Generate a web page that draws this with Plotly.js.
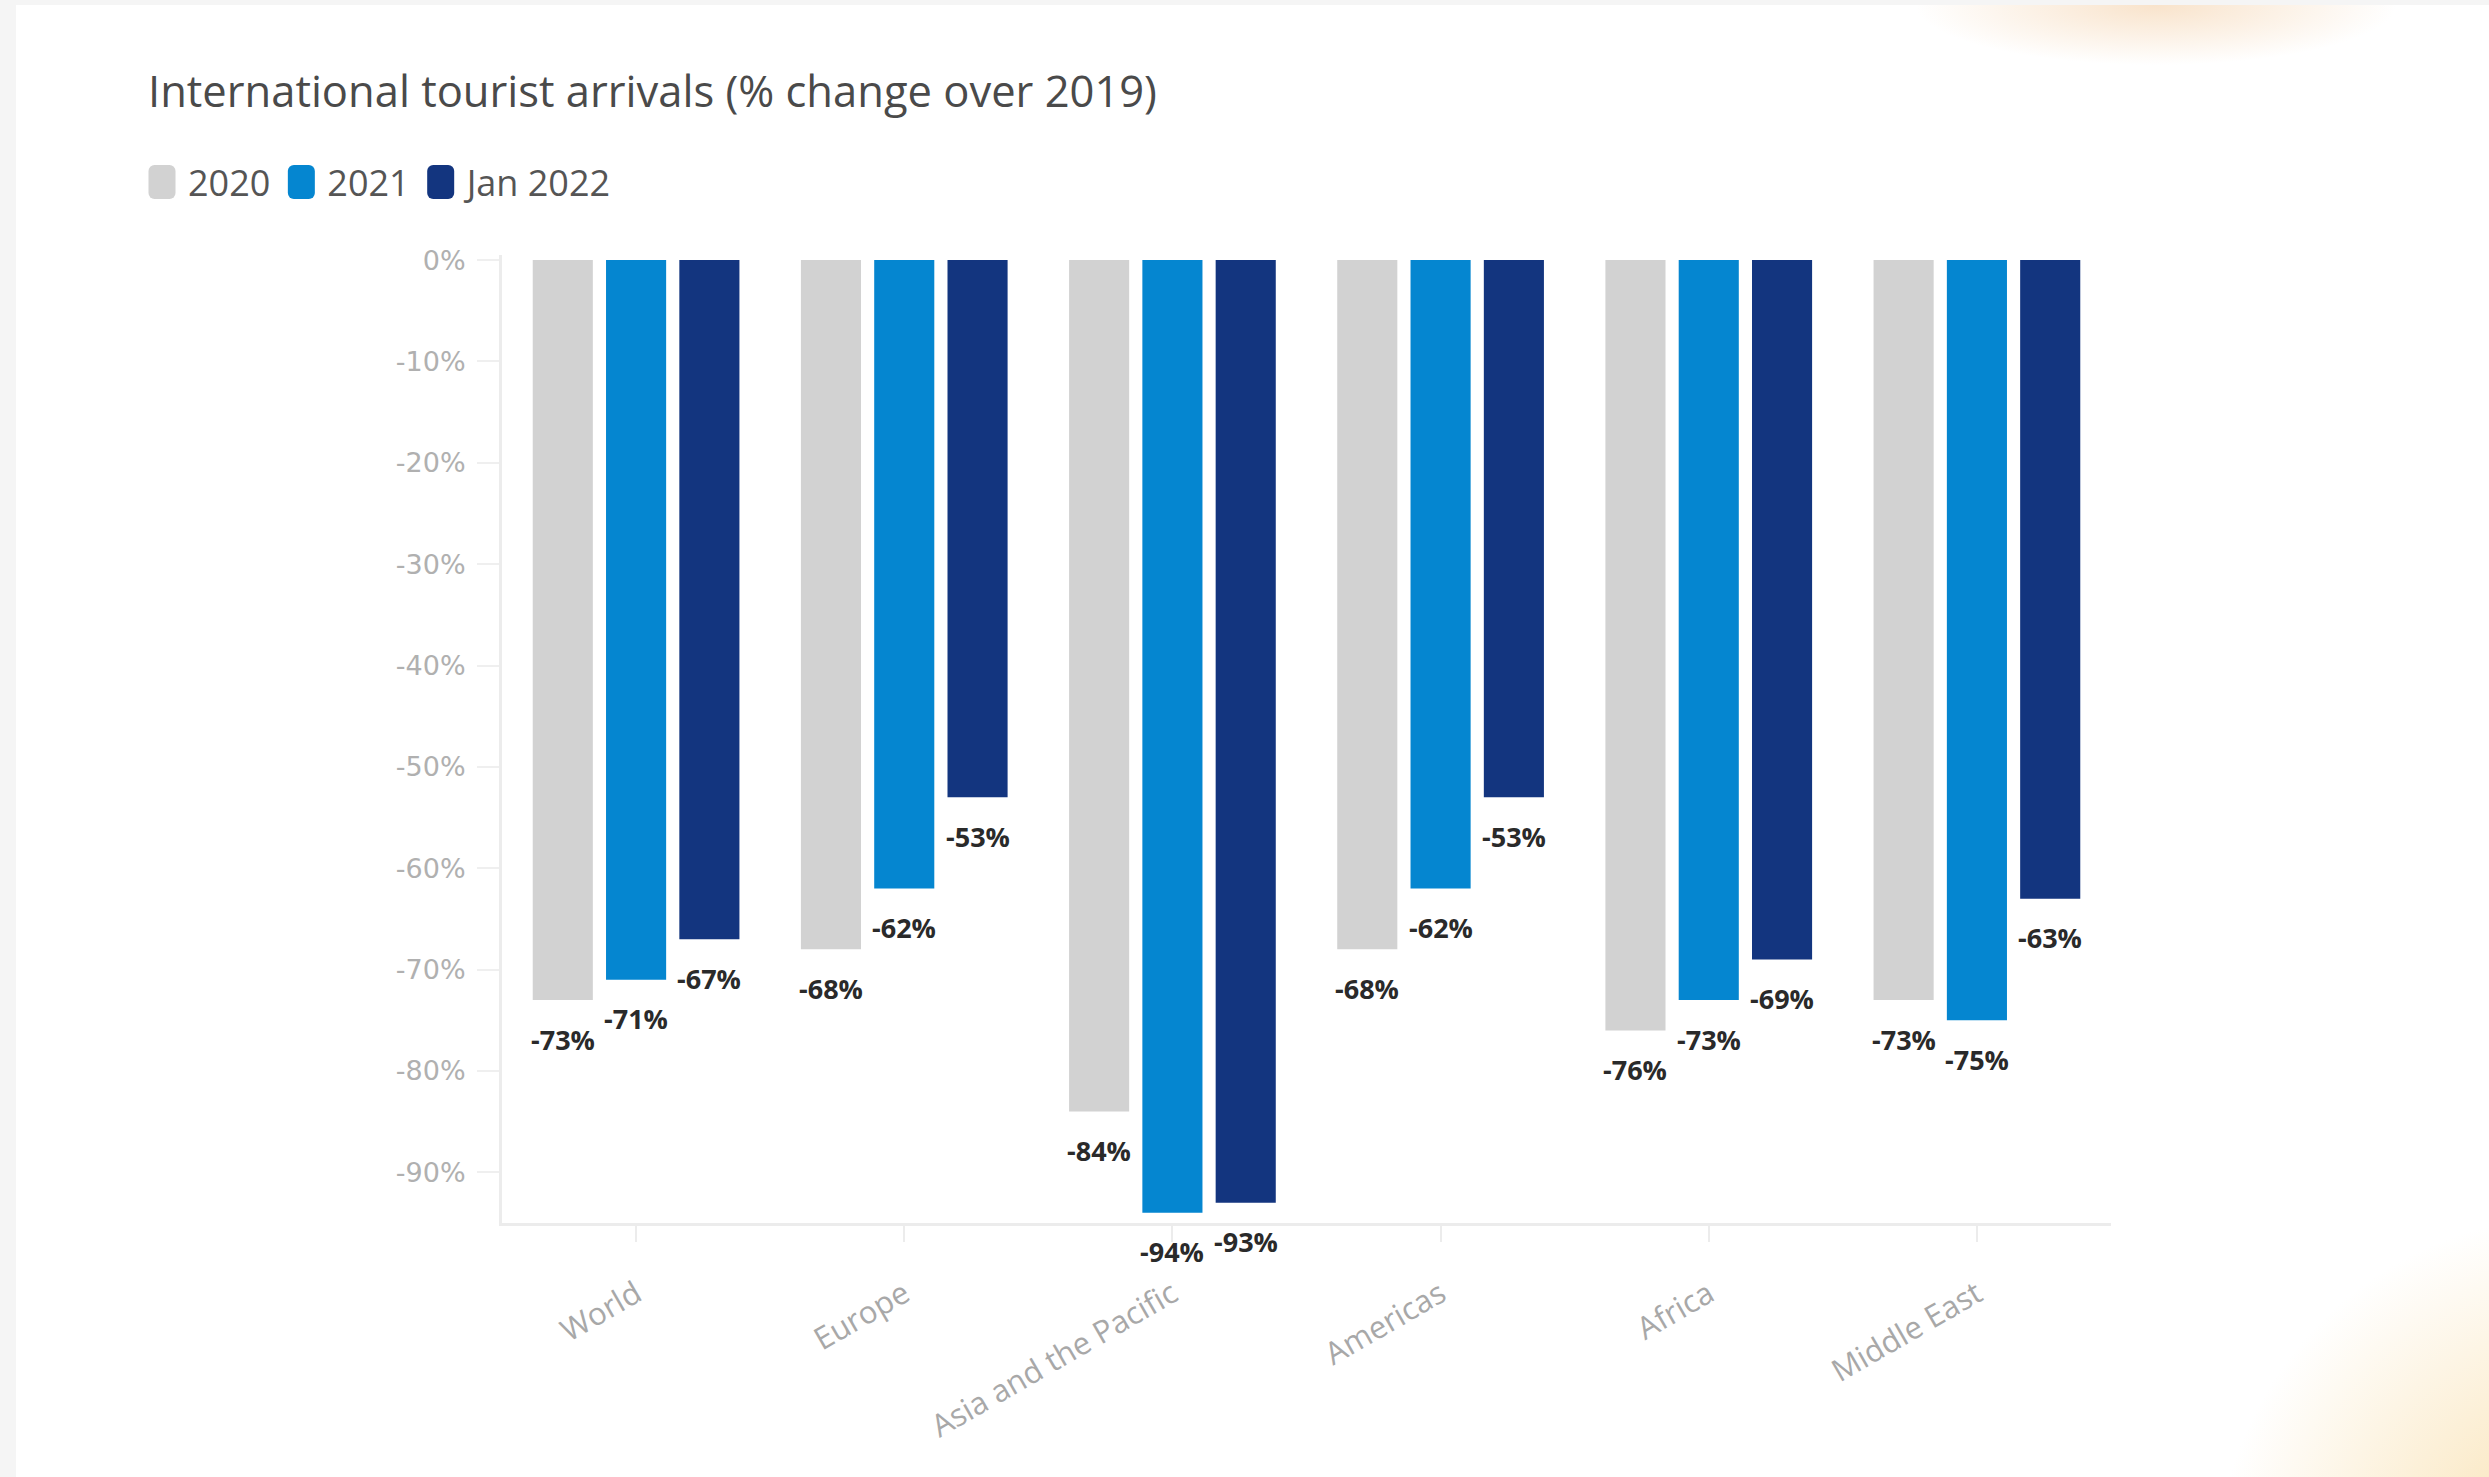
<!DOCTYPE html>
<html>
<head>
<meta charset="utf-8">
<script src="https://cdn.plot.ly/plotly-3.0.1.min.js"></script>
<style>
  html, body { margin: 0; padding: 0; width: 2489px; height: 1477px; overflow: hidden; background: #f5f5f5; }
  #card {
    position: absolute; left: 16px; top: 5px; right: 0; bottom: 0;
    background:
      radial-gradient(ellipse 240px 60px at 2140px 0px, rgba(247,220,190,0.8), rgba(255,255,255,0) 100%),
      radial-gradient(circle 360px at 2560px 1570px, rgba(248,222,170,1) 0%, rgba(250,230,190,0.7) 45%, rgba(255,255,255,0) 100%),
      #ffffff;
  }
  #chart { position: absolute; left: 0; top: 0; width: 2489px; height: 1477px; }
</style>
</head>
<body>
<div id="card"></div>
<div id="chart"></div>
<script>
const categories = ["World", "Europe", "Asia and the Pacific", "Americas", "Africa", "Middle East"];
const seriesNames = ["2020", "2021", "Jan 2022"];
const values2020 = [-73, -68, -84, -68, -76, -73];
const values2021 = [-71, -62, -94, -62, -73, -75];
const valuesJan2022 = [-67, -53, -93, -53, -69, -63];
const seriesColors = ["#d2d2d2", "#0586d0", "#13357f"];
const yTickVals = [0, -10, -20, -30, -40, -50, -60, -70, -80, -90];
const yTickText = ["0%", "-10%", "-20%", "-30%", "-40%", "-50%", "-60%", "-70%", "-80%", "-90%"];

const allValues = [values2020, values2021, valuesJan2022];
const BARGAP = 0.18;
const slot = (1 - BARGAP) / allValues.length;

const traces = allValues.map((vals, s) => ({
  type: "bar",
  name: seriesNames[s],
  x: categories,
  y: vals,
  marker: { color: seriesColors[s] },
  hoverinfo: "x+y+name"
}));

const annotations = [];
allValues.forEach((vals, s) => {
  vals.forEach((v, i) => {
    annotations.push({
      x: i + (s - (allValues.length - 1) / 2) * slot,
      y: v,
      xref: "x", yref: "y",
      text: v + "%",
      showarrow: false,
      yanchor: "middle",
      xanchor: "center",
      yshift: -39,
      font: { family: "'Open Sans', Lato, sans-serif", size: 27, color: "#2a2a2a", weight: 700 }
    });
  });
});

const layout = {
  width: 2489, height: 1477,
  paper_bgcolor: "rgba(0,0,0,0)",
  plot_bgcolor: "rgba(0,0,0,0)",
  margin: { l: 502, r: 378, t: 255, b: 254 },
  barmode: "group",
  bargap: BARGAP,
  bargroupgap: 0.18,
  title: {
    text: "International tourist arrivals (% change over 2019)",
    x: 148 / 2489, xanchor: "left", xref: "container",
    y: 1 - 92 / 1477, yanchor: "middle", yref: "container",
    font: { family: "'Open Sans', Lato, sans-serif", size: 43.5, color: "#4a4a4a" }
  },
  showlegend: true,
  legend: {
    orientation: "h",
    x: (136 - 502) / 1609, xanchor: "left",
    y: (1223 - 182) / 968, yanchor: "middle",
    font: { family: "'Open Sans', Lato, sans-serif", size: 36, color: "#555555" },
    bgcolor: "rgba(0,0,0,0)",
    traceorder: "normal",
    itemwidth: 42
  },
  xaxis: {
    type: "category",
    tickangle: -30,
    showline: true, linecolor: "#ececec", linewidth: 3,
    ticks: "outside", ticklen: 16, tickcolor: "#ececec", tickwidth: 2,
    ticklabelstandoff: 22,
    showgrid: false, zeroline: false,
    tickfont: { family: "'Open Sans', Lato, sans-serif", size: 31, color: "#a8a8a8" },
    automargin: false
  },
  yaxis: {
    range: [-95, 0.5],
    tickvals: yTickVals,
    ticktext: yTickText,
    showline: true, linecolor: "#ececec", linewidth: 3,
    ticks: "outside", ticklen: 22, tickcolor: "#efefef", tickwidth: 2,
    ticklabelstandoff: 6,
    showgrid: false, zeroline: false,
    tickfont: { family: "'DejaVu Sans', 'Open Sans', sans-serif", size: 27, color: "#b0b0b0" },
    automargin: false
  },
  annotations: annotations
};

function enlargeLegendSymbols() {
  const w = 27, h = 34, r = 6, dx = 0;
  const x0 = -w / 2 + dx, x1 = w / 2 + dx, y0 = -h / 2, y1 = h / 2;
  const d = `M${x0 + r},${y0}H${x1 - r}A${r},${r} 0 0 1 ${x1},${y0 + r}V${y1 - r}A${r},${r} 0 0 1 ${x1 - r},${y1}H${x0 + r}A${r},${r} 0 0 1 ${x0},${y1 - r}V${y0 + r}A${r},${r} 0 0 1 ${x0 + r},${y0}Z`;
  document.querySelectorAll("#chart .legend .legendpoints path").forEach(p => {
    p.setAttribute("d", d);
  });
}

Plotly.newPlot("chart", traces, layout, { displayModeBar: false, staticPlot: false }).then(gd => {
  enlargeLegendSymbols();
  gd.on("plotly_afterplot", enlargeLegendSymbols);
});
</script>
</body>
</html>
